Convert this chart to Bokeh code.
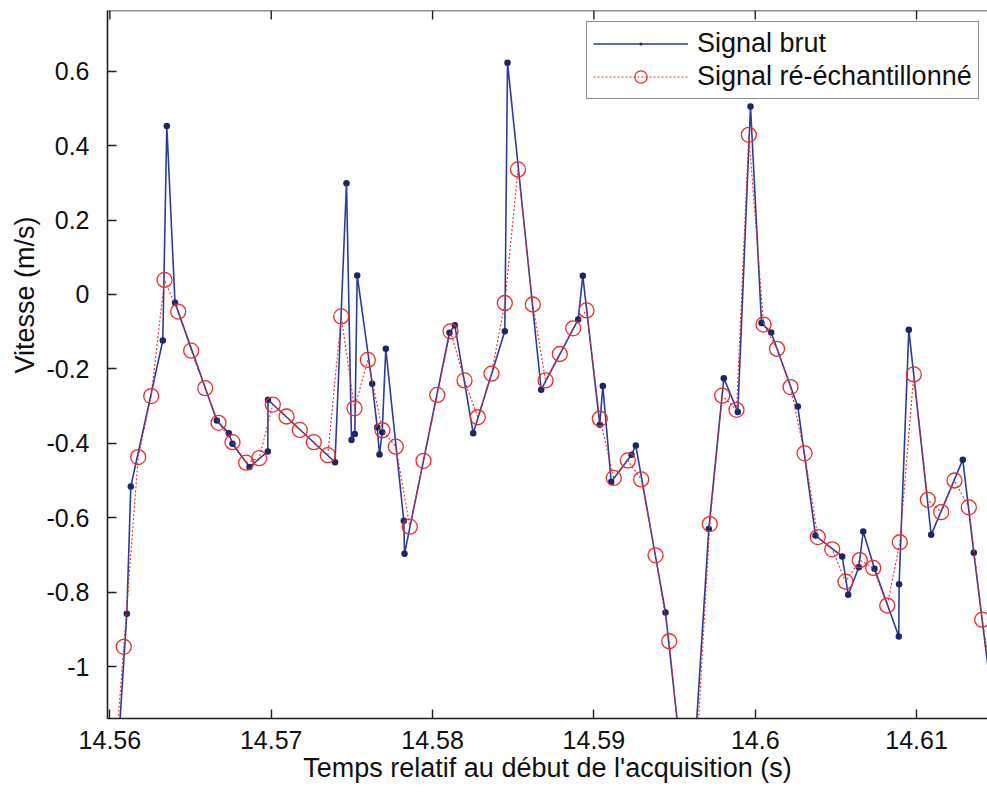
from bokeh.plotting import figure
from bokeh.models import Range1d, FixedTicker, Legend, LegendItem, ColumnDataSource, Span, Title
from bokeh.embed import file_html
from bokeh.resources import INLINE

# ---- data ----
raw_t = [14.560471, 14.561048, 14.561295, 14.563279, 14.563527, 14.564035, 14.566626, 14.567370,
         14.567599, 14.568653, 14.569787, 14.569800, 14.573953, 14.574665, 14.574975, 14.575180,
         14.575329, 14.576258, 14.576569, 14.576711, 14.576878, 14.577101, 14.578217, 14.578261,
         14.581050, 14.581378, 14.582519, 14.584478, 14.584645, 14.586734, 14.589027, 14.589312,
         14.590366, 14.590552, 14.591073, 14.592331, 14.592598, 14.594439, 14.595926, 14.597123,
         14.598052, 14.598920, 14.599707, 14.600389, 14.600990, 14.602639, 14.603736, 14.605391,
         14.605763, 14.606420, 14.606693, 14.607394, 14.608899, 14.608918, 14.609520, 14.610908,
         14.612866, 14.613548, 14.614769]
raw_v = [-1.25, -0.858, -0.516, -0.124, 0.453, -0.022, -0.339, -0.373, -0.401, -0.464,
         -0.422, -0.283, -0.451, 0.299, -0.391, -0.375, 0.051, -0.240, -0.357, -0.430,
         -0.370, -0.146, -0.608, -0.697, -0.103, -0.083, -0.373, -0.099, 0.623, -0.256,
         -0.067, 0.050, -0.350, -0.246, -0.504, -0.431, -0.406, -0.855, -1.45, -0.630,
         -0.225, -0.316, 0.505, -0.077, -0.102, -0.301, -0.648, -0.704, -0.807, -0.733,
         -0.637, -0.737, -0.919, -0.779, -0.095, -0.646, -0.444, -0.694, -1.12]

res_t = [14.560043, 14.560862, 14.561754, 14.562560, 14.563384, 14.564233, 14.565039, 14.565907,
         14.566731, 14.567599, 14.568448, 14.569254, 14.570097, 14.570946, 14.571771, 14.572638,
         14.573506, 14.574337, 14.575161, 14.575986, 14.576897, 14.577721, 14.578589, 14.579438,
         14.580287, 14.581112, 14.581980, 14.582804, 14.583653, 14.584478, 14.585295, 14.586213,
         14.587000, 14.587887, 14.588717, 14.589542, 14.590366, 14.591234, 14.592102, 14.592932,
         14.593819, 14.594668, 14.595511, 14.596354, 14.597185, 14.597953, 14.598839, 14.599602,
         14.600513, 14.601350, 14.602187, 14.603055, 14.603879, 14.604771, 14.605596, 14.606482,
         14.607313, 14.608181, 14.608962, 14.609829, 14.610697, 14.611528, 14.612352, 14.613239,
         14.614069, 14.614911]
res_v = [-1.40, -0.947, -0.437, -0.273, 0.039, -0.046, -0.151, -0.252, -0.345, -0.397,
         -0.452, -0.440, -0.296, -0.328, -0.364, -0.397, -0.432, -0.059, -0.306, -0.176,
         -0.365, -0.409, -0.624, -0.447, -0.270, -0.099, -0.231, -0.330, -0.213, -0.023,
         0.336, -0.027, -0.231, -0.160, -0.091, -0.043, -0.334, -0.493, -0.446, -0.497,
         -0.701, -0.932, -1.30, -1.24, -0.617, -0.272, -0.310, 0.429, -0.081, -0.146,
         -0.249, -0.427, -0.652, -0.685, -0.772, -0.714, -0.735, -0.836, -0.666, -0.215,
         -0.552, -0.585, -0.500, -0.572, -0.874, -1.10]

x_ticks = [14.56, 14.57, 14.58, 14.59, 14.6, 14.61]
x_tick_labels = ["14.56", "14.57", "14.58", "14.59", "14.6", "14.61"]
y_ticks = [-1.0, -0.8, -0.6, -0.4, -0.2, 0.0, 0.2, 0.4, 0.6]
y_tick_labels = ["-1", "-0.8", "-0.6", "-0.4", "-0.2", "0", "0.2", "0.4", "0.6"]
series_names = ["Signal brut", "Signal ré-échantillonné"]
x_label = "Temps relatif au début de l'acquisition (s)"
y_label = "Vitesse (m/s)"

FONT = "Liberation Sans"
BLUE = "#2b3c9b"
DOT = "#1c2668"
RED = "#ee2a2a"
AX = "#1e1e1e"
TXT = "#111111"

x_range = Range1d(14.559851, 14.614397)
y_range = Range1d(-1.1396, 0.7631)

p = figure(width=987, height=793, output_backend="svg", toolbar_location=None,
           x_range=x_range, y_range=y_range,
           min_border_left=107, min_border_right=0, min_border_top=10, min_border_bottom=75,
           x_axis_label=x_label)
p.outline_line_color = None
p.grid.visible = False
p.background_fill_color = "white"
p.border_fill_color = "white"

raw_src = ColumnDataSource(dict(t=raw_t, v=raw_v))
res_src = ColumnDataSource(dict(t=res_t, v=res_v))

blue_line = p.line("t", "v", source=raw_src, line_color=BLUE, line_width=1.6)
blue_dots = p.scatter("t", "v", source=raw_src, marker="dot", size=26, line_color=DOT, fill_color=DOT)
red_line = p.line("t", "v", source=res_src, line_color=RED, line_width=1.1, line_dash="2 2")
red_circ = p.scatter("t", "v", source=res_src, marker="circle", size=15, line_color=RED,
                     fill_color=None, line_width=1.3)

for ax in (p.xaxis[0], p.yaxis[0]):
    ax.axis_line_color = AX
    ax.axis_line_width = 1.6
    ax.major_tick_line_color = AX
    ax.major_tick_line_width = 1.4
    ax.major_tick_in = 9
    ax.major_tick_out = 0
    ax.minor_tick_line_color = None
    ax.major_label_text_font = FONT
    ax.major_label_text_font_size = "25px"
    ax.major_label_text_color = TXT
    ax.axis_label_text_font = FONT
    ax.axis_label_text_font_size = "27px"
    ax.axis_label_text_font_style = "normal"
    ax.axis_label_text_color = TXT

p.xaxis[0].ticker = FixedTicker(ticks=x_ticks)
p.xaxis[0].major_label_overrides = dict(zip(x_ticks, x_tick_labels))
p.xaxis[0].major_label_standoff = 12
p.xaxis[0].axis_label_standoff = 1
p.yaxis[0].ticker = FixedTicker(ticks=y_ticks)
p.yaxis[0].major_label_overrides = dict(zip(y_ticks, y_tick_labels))
p.yaxis[0].major_label_standoff = 18

# y-axis title in the left panel, shifted up as in the reference
p.add_layout(Title(text=y_label, align="left", offset=345, standoff=8,
                   text_font=FONT, text_font_size="27px", text_font_style="normal",
                   text_color=TXT), "left")

# top box edge with inward ticks (MATLAB style), no labels
p.add_layout(Span(location=y_range.end, dimension="width", line_color=AX, line_width=1.6))
p.ray(x=x_ticks, y=[y_range.end] * len(x_ticks), length=9, length_units="screen",
      angle=-90, angle_units="deg", line_color=AX, line_width=1.4)

legend = Legend(items=[LegendItem(label=series_names[0], renderers=[blue_line, blue_dots]),
                       LegendItem(label=series_names[1], renderers=[red_line, red_circ])],
                location=(479, 619))
legend.margin = 0
legend.padding = 6
legend.spacing = 2
legend.glyph_width = 95
legend.glyph_height = 31
legend.label_height = 31
legend.label_standoff = 9
legend.label_text_font = FONT
legend.label_text_font_size = "27px"
legend.label_text_color = TXT
legend.border_line_color = AX
legend.border_line_width = 1.6
legend.background_fill_color = "white"
legend.background_fill_alpha = 1.0
p.add_layout(legend)

open("out.html", "w").write(file_html(p, INLINE))
